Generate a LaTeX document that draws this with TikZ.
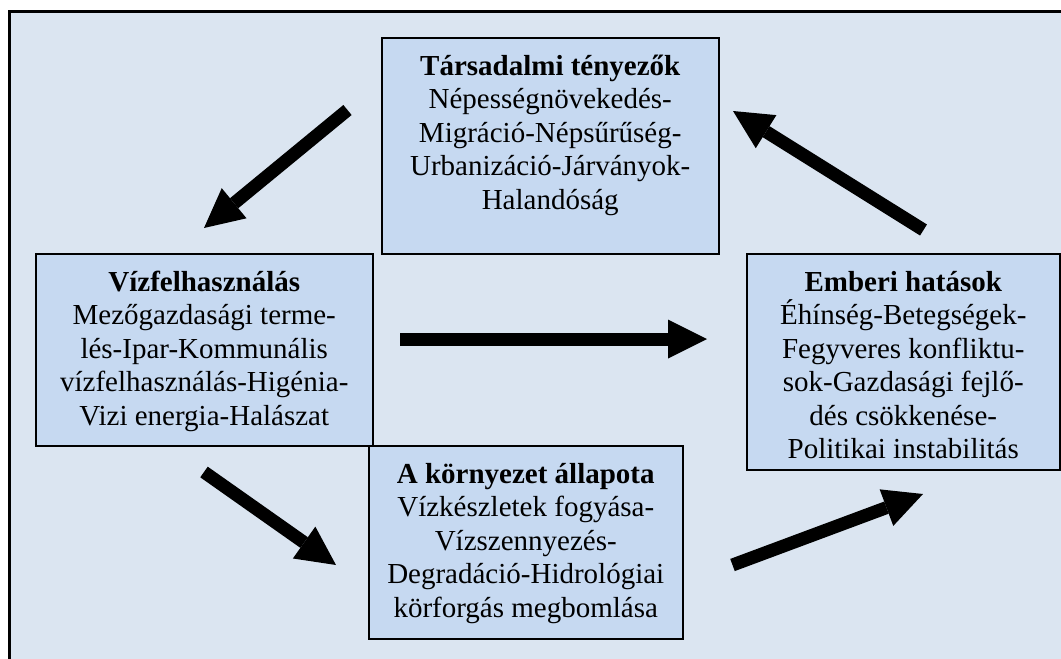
\documentclass[tikz,border=0pt]{standalone}
\usepackage{fontspec}
\setmainfont{Liberation Serif}
\usetikzlibrary{arrows.meta}
\definecolor{bgblue}{HTML}{DBE5F1}
\definecolor{boxblue}{HTML}{C6D9F1}
\begin{document}
\begin{tikzpicture}[x=1pt,y=-1pt,
  box/.style={draw=black, line width=1.5pt, fill=boxblue, inner sep=0pt, anchor=north west},
  txt/.style={anchor=north, align=center, inner sep=0pt, font=\fontsize{29}{33.5}\selectfont},
  bigarrow/.style={line width=13pt, -{Triangle[length=39pt,width=39pt,line width=0pt]}}]
\useasboundingbox (0,0) rectangle (1061,659);
\fill[bgblue] (9.5,11) rectangle (1061,659);
\draw[line width=3pt, line join=miter] (9.5,659) -- (9.5,11) -- (1061,11);

\node[box, minimum width=337pt, minimum height=216pt] (tbox) at (381,37) {};
\node[box, minimum width=337pt, minimum height=192pt] (lbox) at (35,253) {};
\node[box, minimum width=313pt, minimum height=216pt] (rbox) at (746,253) {};
\node[box, minimum width=314pt, minimum height=193pt] (bbox) at (368,445) {};

\node[txt] (ttxt) at ([yshift=-12pt]tbox.north) {{\bfseries\rule{0pt}{26pt}Társadalmi tényezők}\\Népességnövekedés-\\Migráció-Népsűrűség-\\Urbanizáció-Járványok-\\Halandóság};
\node[txt] (ltxt) at ([yshift=-12pt]lbox.north) {{\bfseries\rule{0pt}{26pt}Vízfelhasználás}\\Mezőgazdasági terme-\\lés-Ipar-Kommunális\\vízfelhasználás-Higénia-\\Vizi energia-Halászat};
\node[txt] (rtxt) at ([yshift=-12pt]rbox.north) {{\bfseries\rule{0pt}{26pt}Emberi hatások}\\Éhínség-Betegségek-\\Fegyveres konfliktu-\\sok-Gazdasági fejlő-\\dés csökkenése-\\Politikai instabilitás};
\node[txt] (btxt) at ([yshift=-12pt]bbox.north) {{\bfseries\rule{0pt}{26pt}A környezet állapota}\\Vízkészletek fogyása-\\Vízszennyezés-\\Degradáció-Hidrológiai\\körforgás megbomlása};

\coordinate (a1s) at (347.5,110); \coordinate (a1e) at (204,228);
\coordinate (a2s) at (923.5,230); \coordinate (a2e) at (733,111);
\coordinate (a3s) at (400,339);   \coordinate (a3e) at (707,339);
\coordinate (a4s) at (204,472);   \coordinate (a4e) at (336,565);
\coordinate (a5s) at (732.5,565); \coordinate (a5e) at (923,494);
\draw[bigarrow] (a1s) -- (a1e);
\draw[bigarrow] (a2s) -- (a2e);
\draw[bigarrow] (a3s) -- (a3e);
\draw[bigarrow] (a4s) -- (a4e);
\draw[bigarrow] (a5s) -- (a5e);
\end{tikzpicture}
\end{document}
